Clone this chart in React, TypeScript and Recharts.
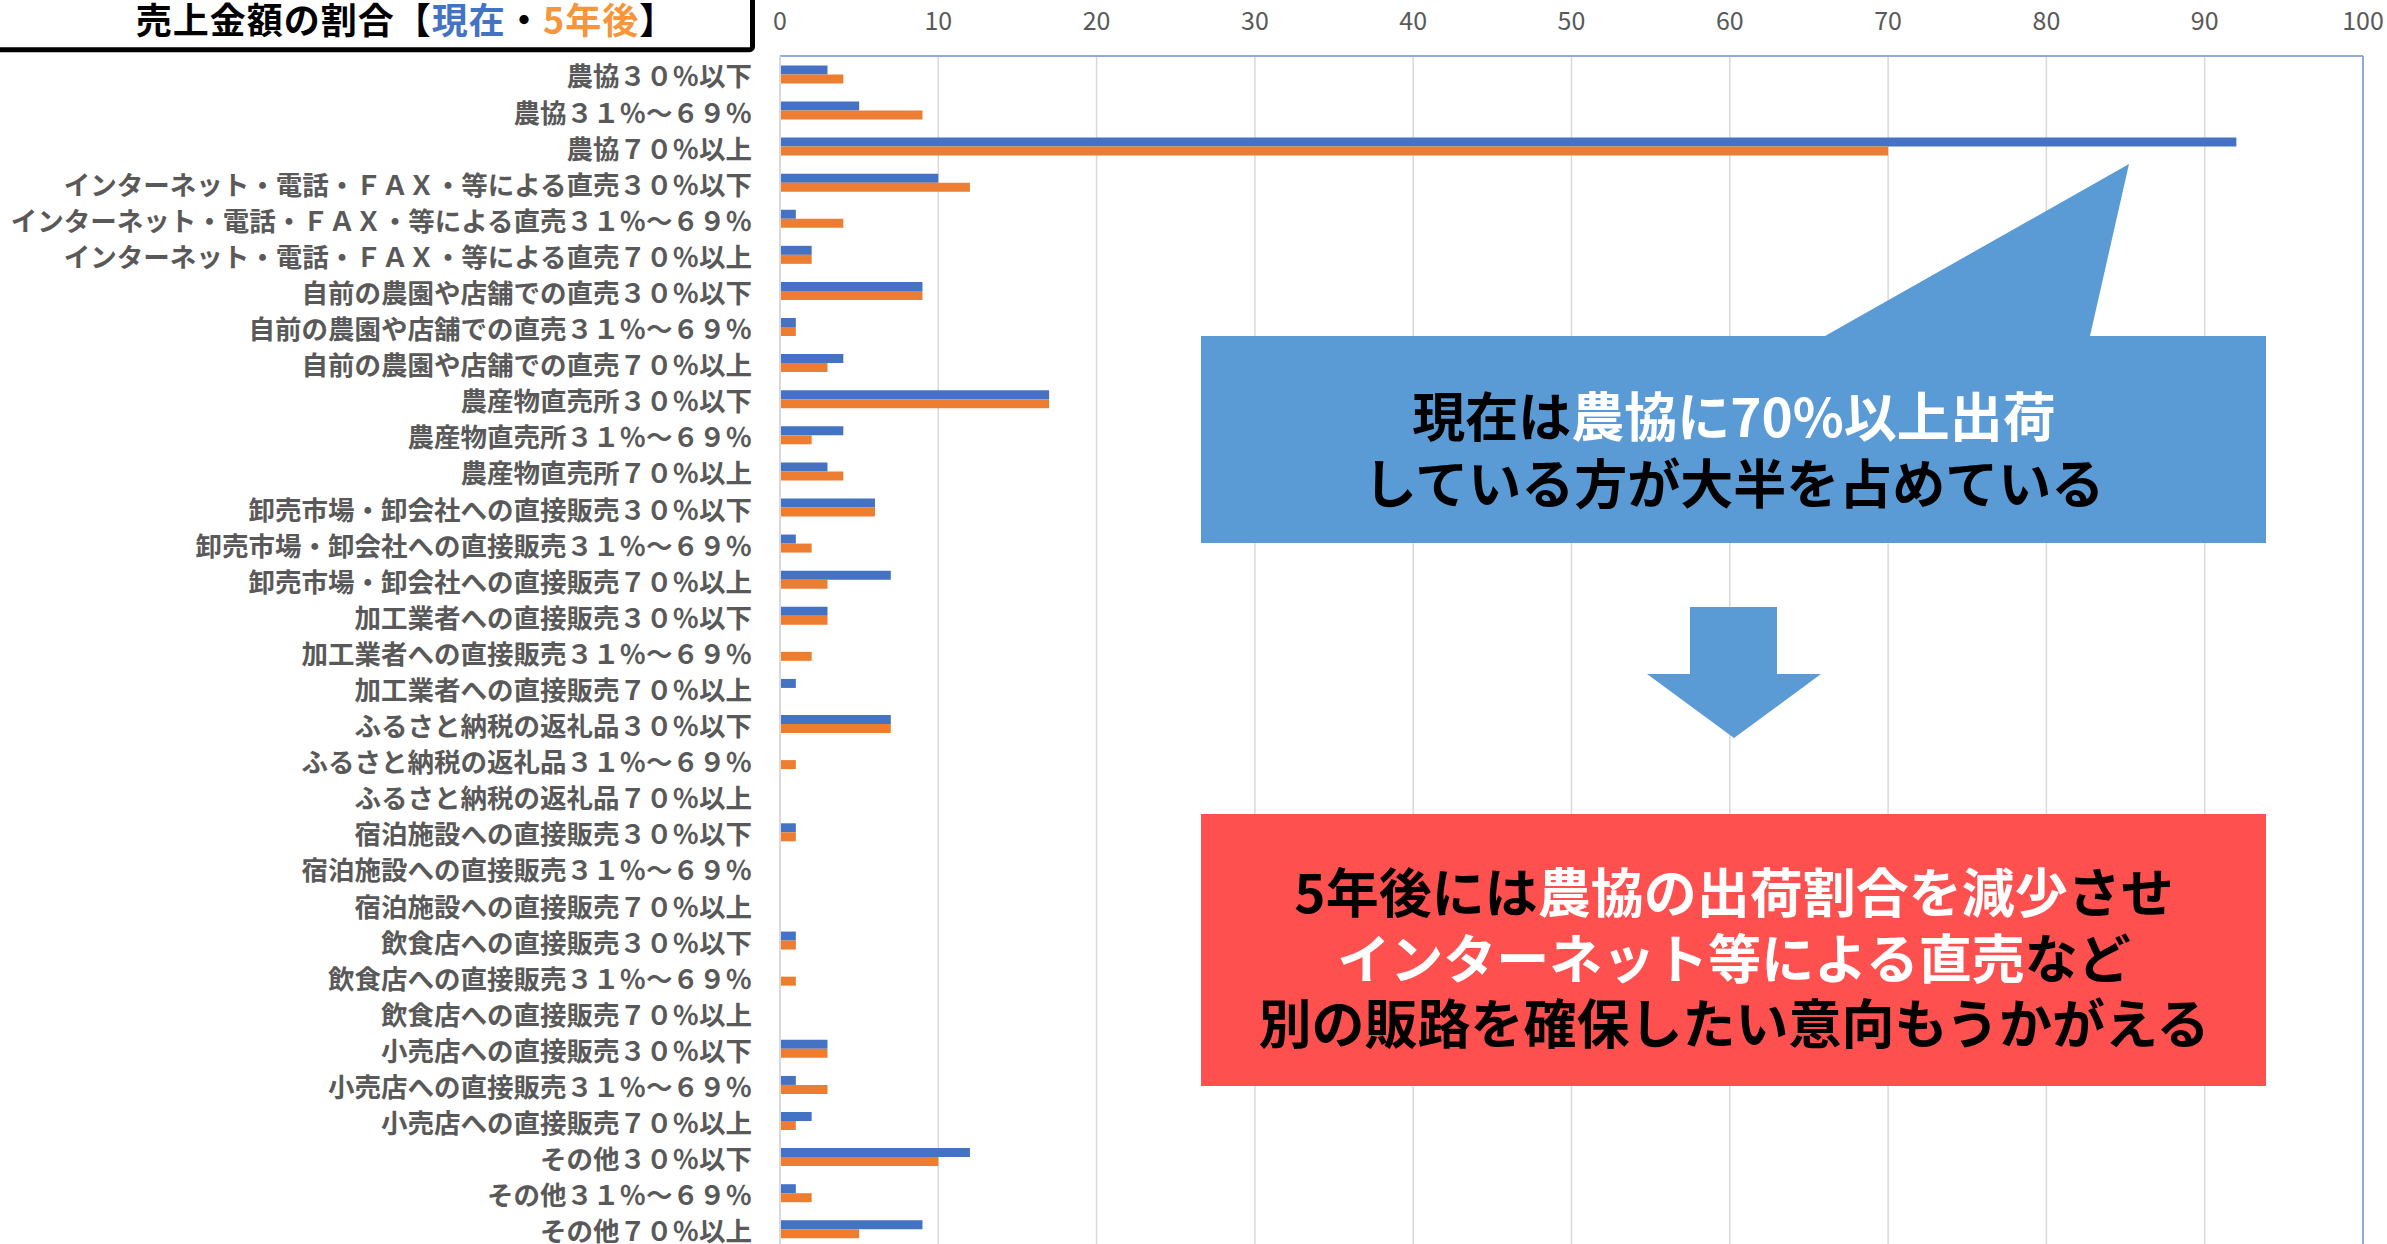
import { BarChart, Bar, XAxis, YAxis, CartesianGrid, ReferenceLine } from 'recharts'

const categories = [
  '農協３０％以下',
  '農協３１％～６９％',
  '農協７０％以上',
  'インターネット・電話・ＦＡＸ・等による直売３０％以下',
  'インターネット・電話・ＦＡＸ・等による直売３１％～６９％',
  'インターネット・電話・ＦＡＸ・等による直売７０％以上',
  '自前の農園や店舗での直売３０％以下',
  '自前の農園や店舗での直売３１％～６９％',
  '自前の農園や店舗での直売７０％以上',
  '農産物直売所３０％以下',
  '農産物直売所３１％～６９％',
  '農産物直売所７０％以上',
  '卸売市場・卸会社への直接販売３０％以下',
  '卸売市場・卸会社への直接販売３１％～６９％',
  '卸売市場・卸会社への直接販売７０％以上',
  '加工業者への直接販売３０％以下',
  '加工業者への直接販売３１％～６９％',
  '加工業者への直接販売７０％以上',
  'ふるさと納税の返礼品３０％以下',
  'ふるさと納税の返礼品３１％～６９％',
  'ふるさと納税の返礼品７０％以上',
  '宿泊施設への直接販売３０％以下',
  '宿泊施設への直接販売３１％～６９％',
  '宿泊施設への直接販売７０％以上',
  '飲食店への直接販売３０％以下',
  '飲食店への直接販売３１％～６９％',
  '飲食店への直接販売７０％以上',
  '小売店への直接販売３０％以下',
  '小売店への直接販売３１％～６９％',
  '小売店への直接販売７０％以上',
  'その他３０％以下',
  'その他３１％～６９％',
  'その他７０％以上',
]

// 現在
const current = [3, 5, 92, 10, 1, 2, 9, 1, 4, 17, 4, 3, 6, 1, 7, 3, 0, 1, 7, 0, 0, 1, 0, 0, 1, 0, 0, 3, 1, 2, 12, 1, 9]
// 5年後
const future = [4, 9, 70, 12, 4, 2, 9, 1, 3, 17, 2, 4, 6, 2, 3, 3, 2, 0, 7, 1, 0, 1, 0, 0, 1, 1, 0, 3, 3, 1, 10, 2, 5]

const xTicks = [0, 10, 20, 30, 40, 50, 60, 70, 80, 90, 100]

const data = categories.map((name, i) => ({ name, current: current[i], future: future[i] }))

const jp = '"Noto Sans CJK JP", "Noto Sans", sans-serif'

export default function App() {
  return (
    <div
      style={{
        position: 'fixed',
        top: 0,
        left: 0,
        width: 2387,
        height: 1244,
        overflow: 'hidden',
        background: '#fff',
      }}
    >
      <BarChart
        width={2387}
        height={1251}
        layout="vertical"
        data={data}
        margin={{ top: 0, right: 24, bottom: 4, left: 0 }}
        barCategoryGap="26%"
        barGap={0}
      >
        <CartesianGrid horizontal={false} stroke="#D9D9D9" strokeWidth={1.5} />
        <XAxis
          type="number"
          orientation="top"
          domain={[0, 100]}
          ticks={xTicks}
          height={56}
          axisLine={{ stroke: '#8FAADC', strokeWidth: 2 }}
          tickLine={false}
          tickMargin={20}
          tick={{ fill: '#595959', fontSize: 25, fontFamily: jp }}
        />
        <YAxis
          type="category"
          dataKey="name"
          width={780}
          interval={0}
          axisLine={{ stroke: '#D9D9D9', strokeWidth: 2 }}
          tickLine={false}
          tickMargin={22}
          tick={{ fill: '#595959', fontSize: 26.5, fontWeight: 700, fontFamily: jp, dy: 3 }}
        />
        <ReferenceLine x={100} stroke="#8FAADC" strokeWidth={2} />
        <Bar dataKey="current" fill="#4472C4" isAnimationActive={false} />
        <Bar dataKey="future" fill="#ED7D31" isAnimationActive={false} />
      </BarChart>

      <svg
        width={2387}
        height={1244}
        style={{ position: 'absolute', top: 0, left: 0, pointerEvents: 'none' }}
      >
        {/* title box */}
        <rect x={-10} y={-10} width={762.5} height={59.7} rx={3} fill="#fff" stroke="#000" strokeWidth={5} />
        <text
          x={406}
          y={18}
          textAnchor="middle"
          dominantBaseline="central"
          fontSize={36}
          fontWeight={700}
          letterSpacing={1}
          fontFamily={jp}
          fill="#000"
        >
          売上金額の割合【<tspan fill="#4472C4">現在</tspan>・<tspan fill="#F5963C">5年後</tspan>】
        </text>

        {/* callout: now */}
        <path
          d="M1201,336 L1825,336 L2129,164 L2090,336 L2266,336 L2266,543 L1201,543 Z"
          fill="#5B9BD5"
        />
        <text x={1734} y={414} textAnchor="middle" dominantBaseline="central" fontSize={53} fontWeight={700} fontFamily={jp} fill="#000">
          現在は<tspan fill="#fff">農協に70%以上出荷</tspan>
        </text>
        <text x={1734} y={481} textAnchor="middle" dominantBaseline="central" fontSize={53} fontWeight={700} fontFamily={jp} fill="#000">
          している方が大半を占めている
        </text>

        {/* arrow */}
        <path
          d="M1690,607 L1777,607 L1777,674 L1821,674 L1734,738 L1647,674 L1690,674 Z"
          fill="#5B9BD5"
        />

        {/* callout: 5 years later */}
        <rect x={1201} y={814} width={1065} height={272} fill="#FF5050" />
        <text x={1734} y={890} textAnchor="middle" dominantBaseline="central" fontSize={53} fontWeight={700} fontFamily={jp} fill="#000">
          5年後には<tspan fill="#fff">農協の出荷割合を減少</tspan>させ
        </text>
        <text x={1734} y={956} textAnchor="middle" dominantBaseline="central" fontSize={53} fontWeight={700} fontFamily={jp} fill="#000">
          <tspan fill="#fff">インターネット等による直売</tspan>など
        </text>
        <text x={1734} y={1021} textAnchor="middle" dominantBaseline="central" fontSize={53} fontWeight={700} fontFamily={jp} fill="#000">
          別の販路を確保したい意向もうかがえる
        </text>
      </svg>
    </div>
  )
}
